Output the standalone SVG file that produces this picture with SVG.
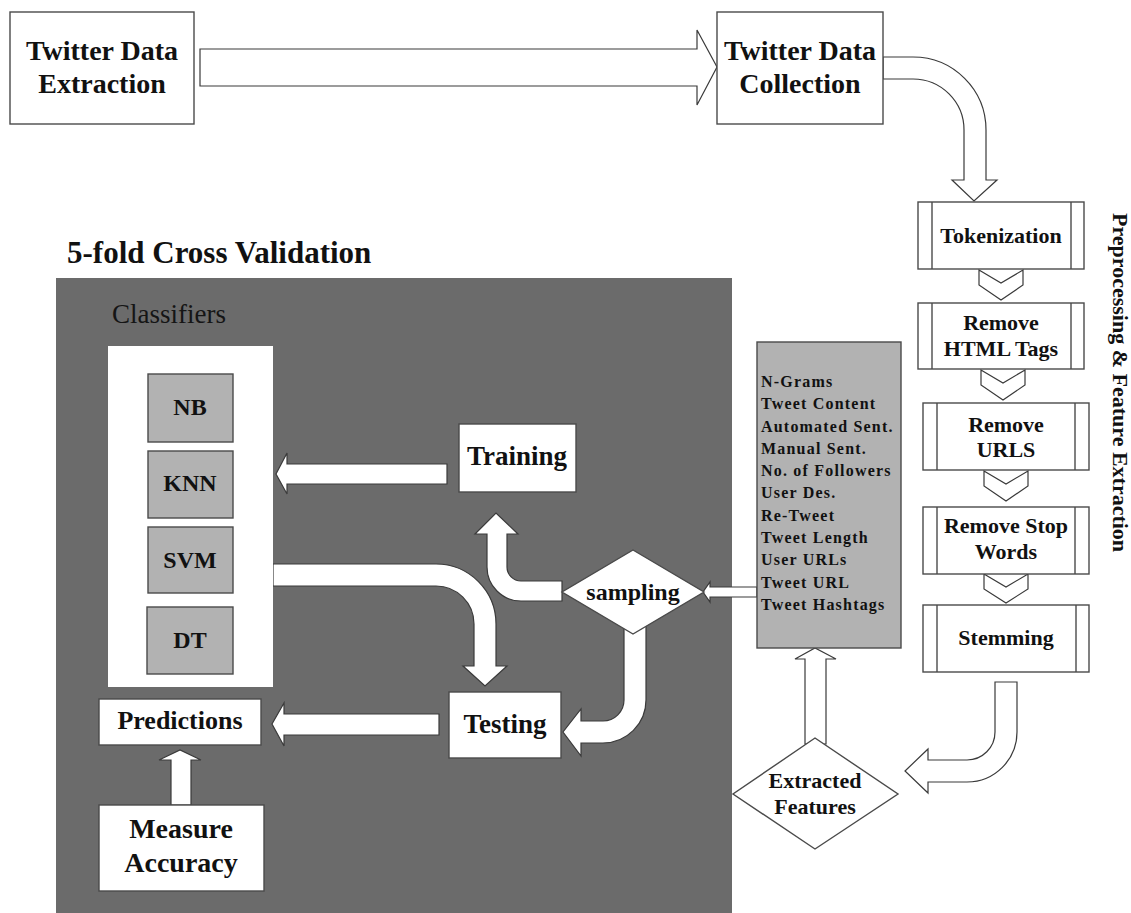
<svg xmlns="http://www.w3.org/2000/svg" width="1131" height="913" viewBox="0 0 1131 913">
<style>
.t{font-family:"Liberation Serif","Times New Roman",serif;font-weight:bold;fill:#111;}
.box{fill:#fff;stroke:#4a4a4a;stroke-width:1.4;}
.gbox{fill:#b2b2b2;stroke:#4a4a4a;stroke-width:1.4;}
.arr{fill:#fff;stroke:#3a3a3a;stroke-width:1.2;stroke-linejoin:miter;}
.ln{stroke:#4a4a4a;stroke-width:1.4;}
</style>
<rect x="0" y="0" width="1131" height="913" fill="#fff"/>
<text class="t" x="67" y="263" font-size="31">5-fold Cross Validation</text>
<rect id="cv-area" x="56" y="278" width="676" height="640" fill="#6b6b6b"/>
<text x="112" y="323" font-family="Liberation Serif, serif" font-size="27" fill="#151515">Classifiers</text>

<g id="connectors">
  <path class="arr" d="M200,49 L697,49 L697,30 L717,67 L697,105 L697,86 L200,86 Z"/>
  <path class="arr" d="M883,57 L913,57 A73,73 0 0 1 986,130 L986,180 L997,180 L974,201 L952,180 L964,180 L964,130 A51,51 0 0 0 913,79 L883,79 Z"/>
  <path class="arr" d="M979,270 L1001,283 L1023,270 L1023,285 L1001,300 L979,285 Z"/>
  <path class="arr" d="M981,370 L1003,383 L1025,370 L1025,385 L1003,400 L981,385 Z"/>
  <path class="arr" d="M984,471 L1006,484 L1028,471 L1028,486 L1006,501 L984,486 Z"/>
  <path class="arr" d="M984,574 L1006,587 L1028,574 L1028,589 L1006,603 L984,589 Z"/>
  <path class="arr" d="M995,682 L1017,682 L1017,732 A50,50 0 0 1 967,782 L928,782 L928,793 L905,771 L928,749 L928,760 L967,760 A28,28 0 0 0 995,732 Z"/>
  <path class="arr" d="M805,744 L805,659 L795,659 L815,648 L836,659 L826,659 L826,744 Z"/>
  <path class="arr" d="M757,587 L710,587 L710,582 L703,592 L710,602 L710,597 L757,597 Z"/>
  <path class="arr" d="M562,581 L521,581 A14,14 0 0 1 507,567 L507,534 L518,534 L496,513 L475,534 L487,534 L487,567 A34,34 0 0 0 521,601 L562,601 Z"/>
  <path class="arr" d="M624,620 L646,620 L646,700 A43,43 0 0 1 603,743 L581,743 L581,756 L563,732 L581,709 L581,721 L603,721 A21,21 0 0 0 624,700 Z"/>
  <path class="arr" d="M273,564 L436,564 A60,60 0 0 1 496,624 L496,666 L507,666 L485,686 L463,666 L474,666 L474,624 A38,38 0 0 0 436,586 L273,586 Z"/>
  <path class="arr" d="M447,464 L287,464 L287,453 L276,474 L287,494 L287,484 L447,484 Z"/>
  <path class="arr" d="M439,714 L284,714 L284,703 L272,724 L284,746 L284,735 L439,735 Z"/>
  <path class="arr" d="M171,805 L171,760 L159,760 L180,750 L201,760 L191,760 L191,805 Z"/>
</g>

<g id="twitter-extraction">
  <rect class="box" x="10" y="12" width="184" height="112"/>
  <text class="t" x="102" y="60" font-size="28" text-anchor="middle">Twitter Data</text>
  <text class="t" x="102" y="93" font-size="28" text-anchor="middle">Extraction</text>
</g>
<g id="twitter-collection">
  <rect class="box" x="717" y="12" width="166" height="112"/>
  <text class="t" x="800" y="60" font-size="28" text-anchor="middle">Twitter Data</text>
  <text class="t" x="800" y="93" font-size="28" text-anchor="middle">Collection</text>
</g>

<g id="tokenization">
  <rect class="box" x="918" y="202" width="166" height="67"/>
  <line class="ln" x1="932" y1="202" x2="932" y2="269"/>
  <line class="ln" x1="1071" y1="202" x2="1071" y2="269"/>
  <text class="t" x="1001" y="243" font-size="22" text-anchor="middle">Tokenization</text>
</g>
<g id="remove-html">
  <rect class="box" x="918" y="303" width="166" height="66"/>
  <line class="ln" x1="932" y1="303" x2="932" y2="369"/>
  <line class="ln" x1="1071" y1="303" x2="1071" y2="369"/>
  <text class="t" x="1001" y="330" font-size="22" text-anchor="middle">Remove</text>
  <text class="t" x="1001" y="356" font-size="22" text-anchor="middle">HTML Tags</text>
</g>
<g id="remove-urls">
  <rect class="box" x="923" y="403" width="166" height="67"/>
  <line class="ln" x1="937" y1="403" x2="937" y2="470"/>
  <line class="ln" x1="1075" y1="403" x2="1075" y2="470"/>
  <text class="t" x="1006" y="432" font-size="22" text-anchor="middle">Remove</text>
  <text class="t" x="1006" y="457" font-size="22" text-anchor="middle">URLS</text>
</g>
<g id="remove-stop-words">
  <rect class="box" x="923" y="507" width="166" height="67"/>
  <line class="ln" x1="937" y1="507" x2="937" y2="574"/>
  <line class="ln" x1="1075" y1="507" x2="1075" y2="574"/>
  <text class="t" x="1006" y="533" font-size="22" text-anchor="middle">Remove Stop</text>
  <text class="t" x="1006" y="559" font-size="22" text-anchor="middle">Words</text>
</g>
<g id="stemming">
  <rect class="box" x="923" y="605" width="166" height="67"/>
  <line class="ln" x1="937" y1="605" x2="937" y2="672"/>
  <line class="ln" x1="1076" y1="605" x2="1076" y2="672"/>
  <text class="t" x="1006" y="645" font-size="22" text-anchor="middle">Stemming</text>
</g>
<g id="preprocessing-label">
  <text class="t" transform="translate(1113,213) rotate(90)" font-size="22">Preprocessing &amp; Feature Extraction</text>
</g>

<g id="extracted-features">
  <polygon class="box" points="815,738 898,794 815,849 733,794"/>
  <text class="t" x="815" y="788" font-size="22" text-anchor="middle">Extracted</text>
  <text class="t" x="815" y="814" font-size="22" text-anchor="middle">Features</text>
</g>

<g id="features-list">
  <rect class="gbox" x="757" y="342" width="144" height="306"/>
  <g class="t" font-size="16" letter-spacing="1.2">
    <text x="761" y="387">N-Grams</text>
    <text x="761" y="409">Tweet Content</text>
    <text x="761" y="432">Automated Sent.</text>
    <text x="761" y="454">Manual Sent.</text>
    <text x="761" y="476">No. of Followers</text>
    <text x="761" y="498">User Des.</text>
    <text x="761" y="521">Re-Tweet</text>
    <text x="761" y="543">Tweet Length</text>
    <text x="761" y="565">User URLs</text>
    <text x="761" y="588">Tweet URL</text>
    <text x="761" y="610">Tweet Hashtags</text>
  </g>
</g>

<g id="sampling">
  <polygon class="box" points="633,550 704,592 633,634 562,592"/>
  <text class="t" x="633" y="600" font-size="24" text-anchor="middle">sampling</text>
</g>

<g id="training">
  <rect class="box" x="459" y="424" width="117" height="68"/>
  <text class="t" x="517" y="465" font-size="27" text-anchor="middle">Training</text>
</g>
<g id="testing">
  <rect class="box" x="449" y="692" width="112" height="66"/>
  <text class="t" x="505" y="733" font-size="27" text-anchor="middle">Testing</text>
</g>

<g id="classifiers">
  <rect x="108" y="346" width="165" height="341" fill="#fff"/>
  <g id="nb">
    <rect class="gbox" x="148" y="374" width="85" height="68"/>
    <text class="t" x="190" y="415" font-size="24" text-anchor="middle">NB</text>
  </g>
  <g id="knn">
    <rect class="gbox" x="148" y="451" width="85" height="67"/>
    <text class="t" x="190" y="491" font-size="24" text-anchor="middle">KNN</text>
  </g>
  <g id="svm">
    <rect class="gbox" x="148" y="527" width="85" height="66"/>
    <text class="t" x="190" y="568" font-size="24" text-anchor="middle">SVM</text>
  </g>
  <g id="dt">
    <rect class="gbox" x="147" y="607" width="86" height="67"/>
    <text class="t" x="190" y="648" font-size="24" text-anchor="middle">DT</text>
  </g>
</g>

<g id="predictions">
  <rect class="box" x="99" y="699" width="162" height="46"/>
  <text class="t" x="180" y="729" font-size="26" text-anchor="middle">Predictions</text>
</g>
<g id="measure-accuracy">
  <rect class="box" x="99" y="805" width="165" height="86"/>
  <text class="t" x="181" y="838" font-size="28" text-anchor="middle">Measure</text>
  <text class="t" x="181" y="872" font-size="28" text-anchor="middle">Accuracy</text>
</g>
</svg>
